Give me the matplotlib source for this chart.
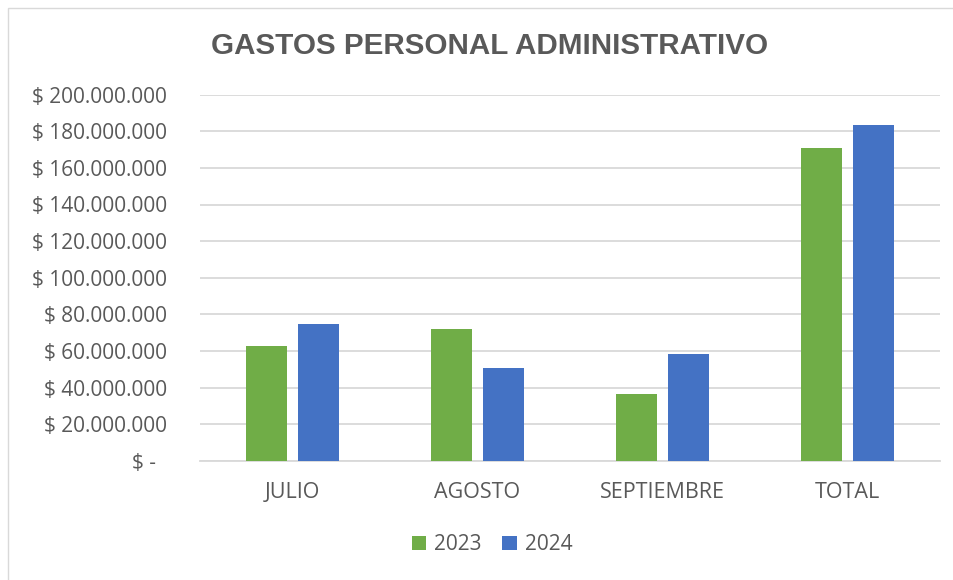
import matplotlib
matplotlib.use("Agg")
import matplotlib.pyplot as plt
import numpy as np
from matplotlib.patches import Rectangle

categories = ["JULIO", "AGOSTO", "SEPTIEMBRE", "TOTAL"]
series_names = ["2023", "2024"]
values_2023 = [62.7e6, 72.0e6, 36.4e6, 171.1e6]
values_2024 = [74.5e6, 50.5e6, 58.5e6, 183.5e6]
ytick_values = [0, 20e6, 40e6, 60e6, 80e6, 100e6, 120e6, 140e6, 160e6, 180e6, 200e6]
ytick_labels = ["$ -  ", "$ 20.000.000", "$ 40.000.000", "$ 60.000.000", "$ 80.000.000",
                "$ 100.000.000", "$ 120.000.000", "$ 140.000.000", "$ 160.000.000",
                "$ 180.000.000", "$ 200.000.000"]
title = "GASTOS PERSONAL ADMINISTRATIVO"

GREEN = "#70AD47"
BLUE = "#4472C4"
TXT = "#595959"
GRID = "#D9D9D9"
FONT = "Open Sans"

W, H = 954, 580
fig = plt.figure(figsize=(W / 100, H / 100), dpi=100)
fig.patch.set_facecolor("white")

# chart border (left and top visible)
fig.add_artist(Rectangle((8.5 / W, -0.1), 1.2, 1 - 7.5 / H + 0.1, transform=fig.transFigure,
                         fill=False, edgecolor=GRID, linewidth=1.0))

ax = fig.add_axes([200 / W, (H - 460.7) / H, 740 / W, 366 / H])
x = np.arange(len(categories))
bw = 0.222
off = 0.142
ax.bar(x - off, values_2023, bw, color=GREEN, label=series_names[0], zorder=3)
ax.bar(x + off, values_2024, bw, color=BLUE, label=series_names[1], zorder=3)

ax.set_xlim(-0.5, len(categories) - 0.5)
ax.set_ylim(0, 200e6)
ax.set_yticks(ytick_values)
ax.set_yticklabels(ytick_labels, fontfamily=FONT, fontsize=15, color=TXT)
ax.set_xticks(x)
ax.set_xticklabels(categories, fontfamily=FONT, fontsize=15.5, color=TXT)
ax.tick_params(axis="y", length=0, pad=24)
ax.tick_params(axis="x", length=0, pad=15)
ax.yaxis.grid(True, color=GRID, linewidth=1.3, zorder=0)
ax.set_axisbelow(True)
for s in ["top", "right", "left"]:
    ax.spines[s].set_visible(False)
ax.spines["bottom"].set_color(GRID)
ax.spines["bottom"].set_linewidth(1.3)

fig.text(490 / W, 1 - 46 / H, title, ha="center", va="center", fontfamily="Liberation Sans",
         fontweight="bold", fontsize=21.3, color=TXT)

leg = fig.legend(loc="center", bbox_to_anchor=(492 / W, 1 - 545 / H), ncol=2, frameon=False,
                 prop={"family": FONT, "size": 15}, handlelength=0.68, handleheight=0.68,
                 handletextpad=0.4, columnspacing=1.0, labelcolor=TXT)

fig.savefig("out.png", dpi=100)
